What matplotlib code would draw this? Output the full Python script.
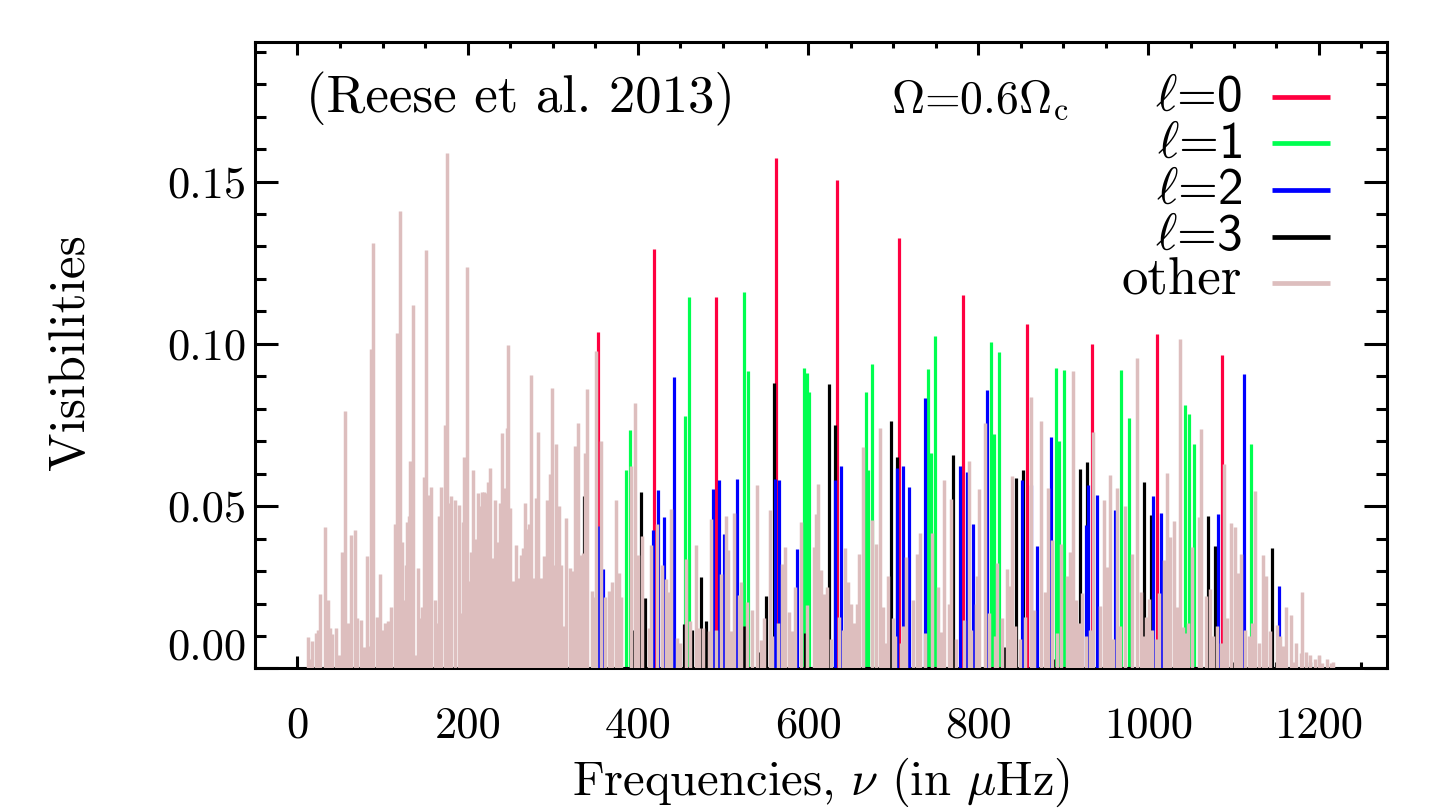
import matplotlib.pyplot as plt
from matplotlib.ticker import MultipleLocator

plt.rcParams['font.family'] = ['cmr10', 'DejaVu Sans']
plt.rcParams['mathtext.fontset'] = 'cm'
plt.rcParams['axes.formatter.use_mathtext'] = True

# l=0 modes (red)
l0_freq = [353.0, 419.5, 491.5, 562.5, 634.0, 707.0, 781.5, 857.0, 933.5, 1010.0, 1086.0]
l0_vis = [0.1036, 0.1293, 0.1144, 0.1573, 0.1505, 0.1327, 0.1152, 0.1062, 0.1001, 0.1029, 0.0967]

# l=1 modes (green)
l1_freq = [385.5, 390.5, 455.0, 459.5, 525.0, 530.0, 595.5, 598.5, 601.0, 668.0, 671.0, 675.0,
           740.5, 744.0, 749.5, 815.0, 818.0, 824.0, 891.0, 895.0, 901.0, 967.5, 977.5,
           1043.5, 1047.5, 1054.0, 1120.5]
l1_vis = [0.0612, 0.0735, 0.0778, 0.1143, 0.1161, 0.0917, 0.0927, 0.0910, 0.0853, 0.0853, 0.0611, 0.0938,
          0.0922, 0.0665, 0.1025, 0.1005, 0.0722, 0.0974, 0.0925, 0.0700, 0.0920, 0.0920, 0.0771,
          0.0812, 0.0785, 0.0692, 0.0692]

# l=2 modes (blue)
l2_freq = [353.0, 359.0, 417.5, 424.0, 431.0, 442.5, 488.5, 495.0, 501.0, 516.0, 561.0, 566.0,
           586.5, 632.0, 638.5, 704.0, 711.5, 718.5, 737.0, 778.0, 786.5, 793.5, 810.0, 851.0,
           862.5, 869.5, 885.0, 926.5, 929.0, 939.0, 960.5, 1005.0, 1015.0, 1081.5, 1112.0, 1154.0]
l2_vis = [0.0438, 0.0305, 0.0426, 0.0549, 0.0468, 0.0897, 0.0554, 0.0580, 0.0415, 0.0584, 0.0585, 0.0580,
          0.0367, 0.0580, 0.0623, 0.0617, 0.0625, 0.0559, 0.0833, 0.0623, 0.0605, 0.0445, 0.0858, 0.0580,
          0.0565, 0.0378, 0.0712, 0.0443, 0.0565, 0.0534, 0.0488, 0.0532, 0.0478, 0.0477, 0.0908, 0.0255]

# l=3 modes (black)
l3_freq = [325.5, 337.0, 394.5, 404.0, 408.0, 454.0, 464.0, 474.0, 479.5, 525.0, 543.0, 551.0,
           559.5, 596.0, 625.0, 631.5, 697.0, 704.0, 770.5, 831.0, 844.5, 853.0, 887.5, 919.5,
           928.0, 994.5, 1002.5, 1070.0, 1078.0, 1145.5, 1189.5]
l3_vis = [0.016, 0.053, 0.012, 0.0543, 0.0216, 0.0136, 0.0118, 0.0282, 0.0147, 0.0131, 0.005, 0.0224,
          0.0879, 0.011, 0.0877, 0.075, 0.0761, 0.0653, 0.0657, 0.0066, 0.0587, 0.0612, 0.003, 0.0614,
          0.0635, 0.0575, 0.0472, 0.047, 0.0377, 0.0372, 0.002]

# other modes (pink)
other_freq = [
    11.8, 14.9, 17.6, 22.0, 24.0, 27.0, 32.2, 35.3, 38.1, 41.1, 45.5, 48.2, 52.2, 55.3, 59.3,
    62.8, 67.0, 70.2, 74.9, 77.6, 81.1, 84.3, 86.6, 89.3, 93.3, 96.4, 99.9, 103.1, 105.8, 109.8,
    114.9, 116.9, 120.4, 122.7, 125.1, 127.8, 129.0, 131.3, 132.8, 135.2, 138.7, 141.9, 144.6,
    146.6, 148.6, 151.0, 153.3, 157.2, 161.1, 164.2, 166.6, 168.9, 173.3, 175.6, 178.0, 180.7,
    185.4, 189.3, 191.6, 194.0, 195.6, 198.7, 201.9, 203.4, 205.7, 208.9, 211.6, 214.4, 216.8,
    219.1, 221.8, 223.8, 226.2, 228.9, 232.1, 235.1, 238.3, 240.7, 243.4, 245.7, 247.7, 249.7,
    252.8, 256.3, 259.1, 262.2, 265.0, 267.7, 270.4, 272.0, 273.9, 277.9, 280.3, 283.0, 286.5,
    289.2, 292.7, 296.3, 298.6, 301.0, 303.8, 307.7, 310.0, 312.4, 315.9, 319.8, 323.8, 326.5,
    329.2, 333.5, 335.5, 338.2, 339.8, 346.1, 348.5, 350.8, 356.7, 361.7, 365.6, 369.6, 373.9,
    377.4, 380.6, 392.0, 397.0, 400.5, 404.9, 412.6, 415.8, 422.9, 428.4, 433.5, 436.2, 439.0,
    445.6, 449.9, 457.0, 461.7, 468.4, 471.4, 476.1, 483.2, 486.4, 492.0, 498.1, 503.7, 506.4,
    509.9, 512.6, 518.5, 521.6, 527.9, 534.2, 540.4, 545.2, 547.9, 554.9, 557.5, 565.0, 569.5,
    573.0, 578.1, 581.2, 584.3, 591.3, 599.2, 606.6, 609.0, 612.2, 615.7, 619.2, 621.9, 627.5,
    636.0, 640.5, 643.9, 646.6, 650.1, 653.7, 657.7, 660.4, 664.2, 675.3, 679.5, 685.1, 688.2,
    690.9, 693.6, 699.5, 702.5, 709.0, 712.0, 715.3, 723.0, 728.5, 731.7, 738.0, 746.2, 752.9,
    756.8, 760.3, 765.3, 768.2, 774.0, 783.5, 789.3, 792.0, 797.1, 798.7, 801.4, 808.5, 813.0,
    819.5, 822.2, 828.1, 834.0, 837.1, 839.9, 843.0, 848.5, 855.0, 861.4, 865.3, 874.0, 877.9,
    881.4, 886.9, 892.0, 897.0, 904.5, 907.6, 911.6, 914.3, 918.0, 922.2, 926.5, 931.0, 935.1,
    942.5, 947.6, 951.6, 955.1, 958.5, 963.3, 966.0, 971.9, 981.0, 986.4, 990.7, 994.5, 997.0,
    1000.5, 1004.0, 1008.5, 1012.2, 1018.6, 1021.6, 1024.8, 1029.9, 1033.8, 1036.6, 1040.4,
    1044.5, 1047.0, 1050.7, 1058.9, 1061.6, 1067.1, 1072.2, 1076.0, 1080.0, 1085.0, 1089.1,
    1092.6, 1096.5, 1101.2, 1105.6, 1109.1, 1113.5, 1118.0, 1121.5, 1124.7, 1129.8, 1134.5,
    1137.7, 1142.4, 1151.4, 1155.0, 1158.5, 1161.5, 1167.9, 1170.9, 1172.9, 1178.8, 1180.8,
    1185.0, 1190.0, 1195.5, 1200.0, 1204.3, 1210.2, 1214.1, 1217.3]
other_vis = [
    0.0098, 0.003, 0.0084, 0.011, 0.012, 0.0228, 0.0436, 0.021, 0.0125, 0.0105, 0.0125, 0.004, 0.036, 0.0794, 0.014,
    0.041, 0.0426, 0.0155, 0.0148, 0.0066, 0.0348, 0.007, 0.0985, 0.131, 0.0158, 0.029, 0.012, 0.014, 0.0145, 0.019,
    0.0446, 0.1033, 0.141, 0.039, 0.021, 0.0318, 0.045, 0.047, 0.0638, 0.112, 0.004, 0.031, 0.0155,
    0.019, 0.059, 0.129, 0.0535, 0.056, 0.021, 0.014, 0.047, 0.056, 0.075, 0.1587, 0.051, 0.053,
    0.052, 0.0505, 0.017, 0.045, 0.065, 0.1238, 0.027, 0.036, 0.061, 0.040, 0.054, 0.050, 0.0545,
    0.0543, 0.054, 0.0573, 0.0617, 0.034, 0.052, 0.039, 0.051, 0.0725, 0.0555, 0.074, 0.0997, 0.0495,
    0.027, 0.038, 0.028, 0.035, 0.037, 0.051, 0.043, 0.0445, 0.0904, 0.028, 0.0525, 0.073, 0.028,
    0.0345, 0.052, 0.060, 0.0864, 0.032, 0.069, 0.050, 0.032, 0.013, 0.0465, 0.031, 0.030, 0.0686,
    0.0756, 0.035, 0.0355, 0.0665, 0.086, 0.024, 0.022, 0.0977, 0.070, 0.022, 0.024, 0.0265, 0.052,
    0.0295, 0.022, 0.0625, 0.0817, 0.035, 0.0408, 0.0126, 0.038, 0.0445, 0.032, 0.0275, 0.0237, 0.0491,
    0.0093, 0.008, 0.0336, 0.0146, 0.038, 0.0126, 0.0126, 0.0115, 0.046, 0.012, 0.029, 0.047, 0.0366,
    0.0115, 0.048, 0.0225, 0.0266, 0.0205, 0.018, 0.0565, 0.0088, 0.0155, 0.0488, 0.010, 0.014, 0.0321,
    0.0375, 0.0175, 0.0115, 0.025, 0.045, 0.0195, 0.0375, 0.0475, 0.0568, 0.0304, 0.023, 0.025, 0.009,
    0.016, 0.012, 0.0372, 0.0267, 0.020, 0.0139, 0.020, 0.0354, 0.0682, 0.0457, 0.0383, 0.0741, 0.019,
    0.008, 0.0285, 0.0155, 0.010, 0.008, 0.013, 0.0342, 0.021, 0.0354, 0.0416, 0.011, 0.0416, 0.025,
    0.0113, 0.058, 0.020, 0.0522, 0.009, 0.015, 0.064, 0.012, 0.020, 0.0285, 0.0553, 0.0756, 0.017,
    0.010, 0.0325, 0.0155, 0.0305, 0.0254, 0.0592, 0.013, 0.009, 0.016, 0.0836, 0.018, 0.0761, 0.0236,
    0.0556, 0.0396, 0.011, 0.0385, 0.0285, 0.036, 0.0916, 0.021, 0.014, 0.0234, 0.010, 0.012, 0.0728,
    0.0193, 0.052, 0.0314, 0.0597, 0.009, 0.0556, 0.013, 0.050, 0.0354, 0.0955, 0.0236, 0.010, 0.016,
    0.0215, 0.012, 0.009, 0.0234, 0.0333, 0.0603, 0.0405, 0.0455, 0.019, 0.1015, 0.0128,
    0.011, 0.014, 0.0375, 0.0467, 0.0737, 0.0223, 0.0244, 0.010, 0.013, 0.008, 0.0631,
    0.0154, 0.0447, 0.0436, 0.0293, 0.0354, 0.012, 0.010, 0.014, 0.0546, 0.008, 0.0349,
    0.0285, 0.0115, 0.0134, 0.010, 0.007, 0.019, 0.0165, 0.0021, 0.008, 0.0047, 0.0237,
    0.005, 0.004, 0.003, 0.004, 0.0016, 0.0028, 0.0016, 0.0021]

legend_labels = [r'$\ell$=0', r'$\ell$=1', r'$\ell$=2', r'$\ell$=3', 'other']
legend_colors = ['#FF0040', '#00FF50', '#0000FF', '#000000', '#DDBEBE']

x_ticks = [0, 200, 400, 600, 800, 1000, 1200]
y_ticks = [0.0, 0.05, 0.10, 0.15]
y_ticklabels = ['0.00', '0.05', '0.10', '0.15']

fig = plt.figure(figsize=(14.51, 8.09), dpi=100)
ax = fig.add_axes([0.1757, 0.1737, 0.7800, 0.7744])

lw = 2.3
ax.vlines(l1_freq, 0, l1_vis, colors=legend_colors[1], linewidth=lw, zorder=2)
ax.vlines(l0_freq, 0, l0_vis, colors=legend_colors[0], linewidth=lw, zorder=3)
ax.vlines(l3_freq, 0, l3_vis, colors=legend_colors[3], linewidth=lw, zorder=4)
ax.vlines(l2_freq, 0, l2_vis, colors=legend_colors[2], linewidth=lw, zorder=5)
ax.vlines(other_freq, 0, other_vis, colors=legend_colors[4], linewidth=2.5, zorder=6)

ax.set_xlim(-50, 1280)
ax.set_ylim(0, 0.193)

ax.set_xticks(x_ticks)
ax.set_xticklabels([str(t) for t in x_ticks])
ax.set_yticks(y_ticks)
ax.set_yticklabels(y_ticklabels)
ax.xaxis.set_minor_locator(MultipleLocator(50))
ax.yaxis.set_minor_locator(MultipleLocator(0.01))

ax.tick_params(axis='both', which='both', direction='in', top=True, right=True,
               width=2.2, labelsize=32)
ax.tick_params(axis='x', which='major', length=9, pad=27)
ax.tick_params(axis='x', which='minor', length=4.5)
ax.tick_params(axis='y', which='major', length=16.3, pad=6)
ax.tick_params(axis='y', which='minor', length=8)
for s in ax.spines.values():
    s.set_linewidth(2.2)

ax.set_xlabel(r'Frequencies, $\nu$ (in $\mu$Hz)', fontsize=35)
ax.xaxis.set_label_coords(0.5, -0.139)
ax.set_ylabel('Visibilities', fontsize=37)
ax.yaxis.set_label_coords(-0.142, 0.505)

ax.get_yticklabels()[0].set_va('bottom')

ax.text(0.045, 0.887, '(Reese et al. 2013)', transform=ax.transAxes, fontsize=38)
ax.text(0.562, 0.887, r'$\Omega$=0.6$\Omega_{\rm c}$', transform=ax.transAxes, fontsize=33)

# legend drawn by hand, labels right aligned
row_y = [0.9122, 0.838, 0.7638, 0.6895, 0.6153]
for lab, col, yy in zip(legend_labels, legend_colors, row_y):
    if lab == 'other':
        ax.text(0.872, yy - 0.019, lab, transform=ax.transAxes, fontsize=38,
                ha='right', va='baseline')
    else:
        ax.text(0.872, yy - 0.022, lab, transform=ax.transAxes, fontsize=37,
                ha='right', va='baseline', family=['cmss10', 'DejaVu Sans'])
    ax.plot([0.899, 0.950], [yy, yy], color=col, linewidth=3.4, transform=ax.transAxes,
            solid_capstyle='butt', zorder=7)

fig.savefig('out.png', dpi=100)
